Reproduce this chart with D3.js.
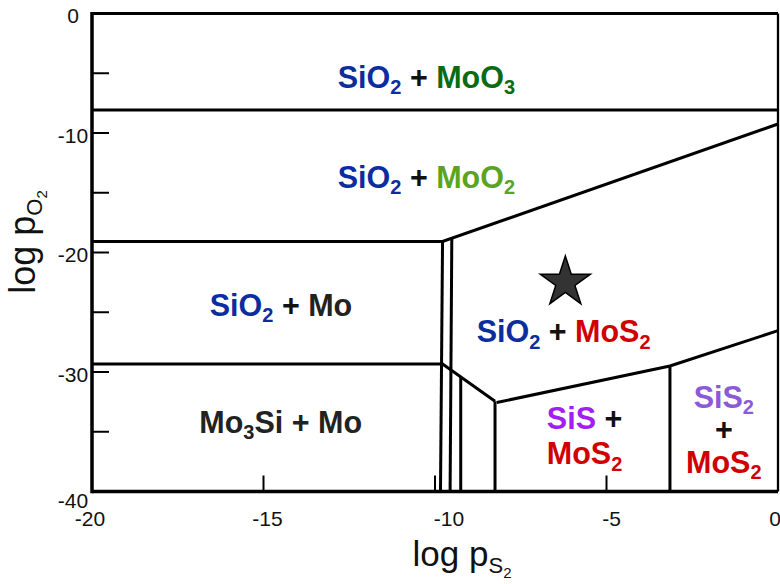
<!DOCTYPE html>
<html>
<head>
<meta charset="utf-8">
<script src="https://cdn.jsdelivr.net/npm/d3@7"></script>
<style>
  html, body { margin: 0; padding: 0; background: #fff; }
  svg { display: block; font-family: "Liberation Sans", Arial, Helvetica, sans-serif; }
</style>
</head>
<body>
<svg id="chart" width="780" height="584"></svg>
<script>
// Axis extents (log partial pressures)
const xDomain = [-20, 0];
const yDomain = [0, -40];
const xTickValues = [-20, -15, -10, -5, 0];
const xTickMarks = [-15, -10, -5];
const yTickValues = [0, -10, -20, -30, -40];
const yTickMarks = [-5, -10, -15, -20, -25, -30, -35];

// Phase boundaries as polylines in (log pS2, log pO2)
const boundaryMoO3 = [[-20, -8.08], [0, -8.08]];
const boundaryMoO2 = [[-20, -19.08], [-9.78, -19.08], [0, -9.25]];
const boundaryMo3Si = [[-20, -29.33], [-9.78, -29.33], [-8.25, -32.45]];
const boundarySiS = [[-8.2, -32.55], [-3.15, -29.5], [0, -26.54]];
const verticalA = [[-9.78, -19.08], [-9.84, -40]];
const verticalB = [[-9.51, -18.81], [-9.56, -40]];
const verticalC = [[-9.25, -30.41], [-9.25, -40]];
const verticalD = [[-8.25, -32.45], [-8.25, -40]];
const verticalE = [[-3.15, -29.5], [-3.15, -40]];
const boundaries = [boundaryMoO3, boundaryMoO2, boundaryMo3Si, boundarySiS,
                    verticalA, verticalB, verticalC, verticalD, verticalE];

// Experimental condition marker
const starPoint = [-6.2, -22.5];

// Colours of the phases
const cSiO2 = "#0b2d9e", cMoO3 = "#0b6b12", cMoO2 = "#5ba41f", cMo = "#222222",
      cMoS2 = "#d10000", cSiS = "#a21ef2", cSiS2 = "#8b5ad6", cPlus = "#111111";

// Phase-field labels: first-line anchor (x, y) in data units, text runs per line
const phaseLabels = [
  { at: [-10.25, -6.23], gap: 0, lines: [[["SiO", cSiO2], ["2", cSiO2, 1], [" + ", cPlus], ["MoO", cMoO3], ["3", cMoO3, 1]]] },
  { at: [-10.25, -14.6], gap: 0, lines: [[["SiO", cSiO2], ["2", cSiO2, 1], [" + ", cPlus], ["MoO", cMoO2], ["2", cMoO2, 1]]] },
  { at: [-14.49, -25.31], gap: 0, lines: [[["SiO", cSiO2], ["2", cSiO2, 1], [" + ", cPlus], ["Mo", cMo]]] },
  { at: [-14.5, -35.1], gap: 0, lines: [[["Mo", cMo], ["3", cMo, 1], ["Si + Mo", cMo]]] },
  { at: [-6.25, -27.49], gap: 0, lines: [[["SiO", cSiO2], ["2", cSiO2, 1], [" + ", cPlus], ["MoS", cMoS2], ["2", cMoS2, 1]]] },
  { at: [-5.64, -34.77], gap: 35, lines: [[["SiS", cSiS], [" +", cPlus]], [["MoS", cMoS2], ["2", cMoS2, 1]]] },
  { at: [-1.58, -33.0], gap: 32.5, lines: [[["SiS", cSiS2], ["2", cSiS2, 1]], [["+", cPlus]], [["MoS", cMoS2], ["2", cMoS2, 1]]] }
];

const svg = d3.select("#chart");
const x = d3.scaleLinear().domain(xDomain).range([92, 778]);
const y = d3.scaleLinear().domain(yDomain).range([13.5, 491.5]);

// Tick marks (inside the frame)
svg.append("g").selectAll("line").data(yTickMarks).join("line")
  .attr("x1", x(-20)).attr("x2", x(-20) + 17)
  .attr("y1", d => y(d)).attr("y2", d => y(d))
  .attr("stroke", "#000").attr("stroke-width", 2);
svg.append("g").selectAll("line").data(xTickMarks).join("line")
  .attr("x1", d => x(d)).attr("x2", d => x(d))
  .attr("y1", y(-40)).attr("y2", y(-40) - 16)
  .attr("stroke", "#000").attr("stroke-width", 2);

// Tick labels
const yNudge = { "-40": 7 };
svg.append("g").selectAll("text").data(yTickValues).join("text")
  .attr("x", 73).attr("y", d => y(d) + 2 + (yNudge[d] || 0))
  .attr("text-anchor", "middle").attr("dominant-baseline", "central")
  .attr("font-size", 21).attr("fill", "#111")
  .text(d => d);
const xNudge = { "-20": -2, "-15": 4, "-10": 14, "-5": 5, "0": -3 };
svg.append("g").selectAll("text").data(xTickValues).join("text")
  .attr("x", d => x(d) + (xNudge[d] || 0)).attr("y", 526)
  .attr("text-anchor", "middle")
  .attr("font-size", 21).attr("fill", "#111")
  .text(d => d);

// Boundaries
const line = d3.line().x(d => x(d[0])).y(d => y(d[1]));
svg.append("g").selectAll("path").data(boundaries).join("path")
  .attr("d", line).attr("fill", "none")
  .attr("stroke", "#000").attr("stroke-width", 3)
  .attr("stroke-linejoin", "miter");

// Frame
const frame = svg.append("g").attr("stroke", "#000").attr("fill", "none");
frame.append("line").attr("x1", x(-20)).attr("x2", x(-20)).attr("y1", y(0) - 1.5).attr("y2", y(-40) + 1.7).attr("stroke-width", 3.5);
frame.append("line").attr("x1", x(-20)).attr("x2", x(0)).attr("y1", y(0)).attr("y2", y(0)).attr("stroke-width", 3.2);
frame.append("line").attr("x1", x(-20)).attr("x2", x(0)).attr("y1", y(-40)).attr("y2", y(-40)).attr("stroke-width", 3.4);
frame.append("line").attr("x1", x(0)).attr("x2", x(0)).attr("y1", y(0)).attr("y2", y(-40)).attr("stroke-width", 2.3);

// Star marker
svg.append("path")
  .attr("d", d3.symbol(d3.symbolStar, 780)())
  .attr("transform", `translate(${x(starPoint[0])},${y(starPoint[1])})`)
  .attr("fill", "#333").attr("stroke", "#000").attr("stroke-width", 1.5);

// Phase labels
phaseLabels.forEach(p => {
  p.lines.forEach((runs, i) => {
    const t = svg.append("text")
      .attr("x", x(p.at[0]))
      .attr("y", y(p.at[1]) + i * p.gap)
      .attr("text-anchor", "middle")
      .attr("font-size", 30.5).attr("font-weight", "bold");
    let shifted = false;
    runs.forEach(([str, col, sub]) => {
      const ts = t.append("tspan").attr("fill", col).text(str);
      if (sub && !shifted) { ts.attr("dy", 6.5).attr("font-size", 20); shifted = true; }
      else if (sub) { ts.attr("font-size", 20); }
      else if (shifted) { ts.attr("dy", -6.5); shifted = false; }
    });
  });
});

// Axis titles
const xt = svg.append("text").attr("x", 462).attr("y", 566)
  .attr("text-anchor", "middle").attr("font-size", 35).attr("fill", "#111");
xt.append("tspan").text("log p");
xt.append("tspan").attr("font-size", 22).attr("dy", 7).text("S");
xt.append("tspan").attr("font-size", 15).attr("dy", 5).text("2");

const yt = svg.append("text")
  .attr("transform", "translate(35,242) rotate(-90)")
  .attr("text-anchor", "middle").attr("font-size", 36).attr("fill", "#111");
yt.append("tspan").text("log p");
yt.append("tspan").attr("font-size", 22).attr("dy", 7).text("O");
yt.append("tspan").attr("font-size", 15).attr("dy", 5).text("2");
</script>
</body>
</html>
